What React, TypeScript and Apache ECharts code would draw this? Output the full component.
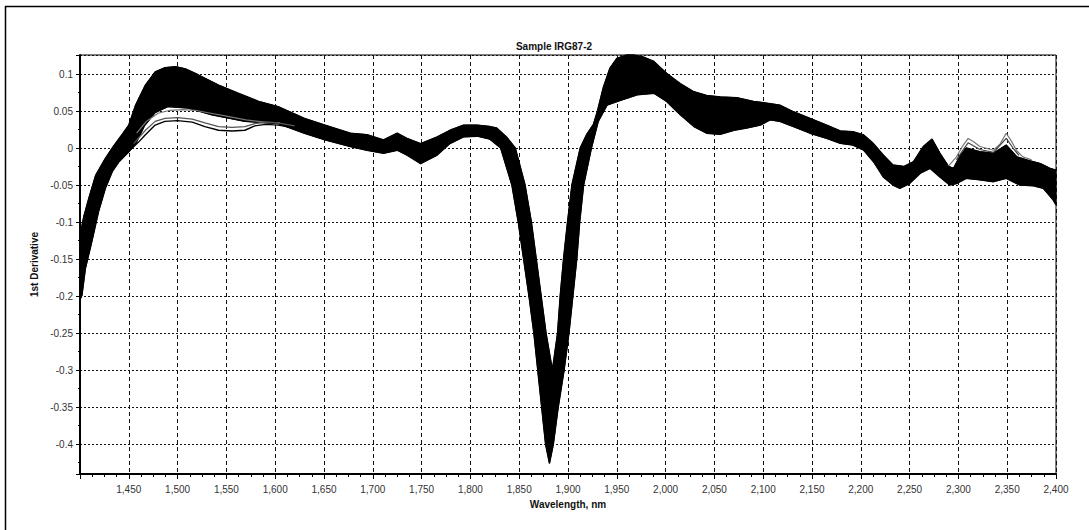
import React, { useEffect, useRef } from "react";
import * as echarts from "echarts";

// Upper edge of the dense bundle of spectra [wavelength nm, 1st derivative]
const upperEnvelope: [number, number][] = [
  [1400, -0.118], [1404, -0.092], [1409, -0.068], [1416, -0.037], [1426, -0.014],
  [1433, 0.0], [1443, 0.018], [1450, 0.031], [1457, 0.058], [1467, 0.085],
  [1477, 0.103], [1487, 0.1085], [1498, 0.11], [1508, 0.107], [1521, 0.099],
  [1542, 0.085], [1562, 0.074], [1583, 0.063], [1603, 0.056], [1630, 0.04],
  [1651, 0.031], [1677, 0.02], [1694, 0.018], [1711, 0.011], [1725, 0.02],
  [1735, 0.013], [1749, 0.006], [1766, 0.015], [1779, 0.024], [1793, 0.031],
  [1807, 0.031], [1820, 0.029], [1827, 0.027], [1837, 0.015], [1846, 0.0],
  [1856, -0.05], [1862.5, -0.1], [1867.5, -0.15], [1872.5, -0.2], [1877.5, -0.25],
  [1884, -0.3], [1889.3, -0.25], [1892, -0.2], [1895.4, -0.15], [1899.5, -0.1],
  [1904, -0.05], [1912.5, 0.0], [1919, 0.018], [1926, 0.032], [1930, 0.049],
  [1936, 0.081], [1943, 0.108], [1950, 0.121], [1960, 0.1257], [1967, 0.1257],
  [1977, 0.123], [1988, 0.117], [2001, 0.101], [2015, 0.087], [2029, 0.076],
  [2042, 0.071], [2056, 0.069], [2073, 0.068], [2090, 0.063], [2107, 0.06],
  [2117, 0.058], [2131, 0.049], [2148, 0.04], [2165, 0.031], [2179, 0.023],
  [2192, 0.022], [2203, 0.0176], [2213, 0.006], [2223, -0.0095], [2233, -0.023],
  [2244, -0.025], [2254, -0.0185], [2264, 0.002], [2273, 0.012], [2281, -0.007],
  [2290, -0.025], [2295, -0.0275], [2302, -0.01], [2308, 0.0], [2322, -0.005],
  [2336, -0.007], [2349, 0.004], [2360, -0.012], [2370, -0.016], [2384, -0.021],
  [2394, -0.0275], [2400, -0.03],
];

// Lower edge of the dense bundle of spectra
const lowerEnvelope: [number, number][] = [
  [1400, -0.205], [1402, -0.199], [1405.5, -0.163], [1412, -0.127], [1419, -0.086],
  [1426, -0.0545], [1433, -0.032], [1440, -0.0185], [1450, -0.005], [1457, 0.006],
  [1466, 0.03], [1477, 0.048], [1490, 0.056], [1511, 0.054], [1535, 0.045],
  [1569, 0.036], [1603, 0.033], [1630, 0.02], [1651, 0.011], [1677, 0.002],
  [1694, -0.003], [1711, -0.007], [1725, -0.003], [1735, -0.0095], [1749, -0.021],
  [1766, -0.0095], [1779, 0.006], [1793, 0.015], [1807, 0.016], [1820, 0.012],
  [1831, 0.0], [1842.5, -0.05], [1849, -0.1], [1854.5, -0.15], [1860, -0.2],
  [1865, -0.25], [1869, -0.3], [1873, -0.35], [1877, -0.4], [1881, -0.426],
  [1885, -0.4], [1890, -0.35], [1896, -0.3], [1901, -0.25], [1905, -0.2],
  [1909, -0.15], [1912, -0.1], [1916, -0.05], [1924, 0.0], [1931, 0.036],
  [1940, 0.058], [1953, 0.064], [1971, 0.072], [1988, 0.074], [2001, 0.063],
  [2015, 0.045], [2029, 0.029], [2042, 0.02], [2056, 0.0185], [2070, 0.024],
  [2083, 0.027], [2097, 0.031], [2107, 0.038], [2117, 0.036], [2131, 0.029],
  [2148, 0.02], [2165, 0.013], [2179, 0.0063], [2192, 0.004], [2203, -0.003],
  [2213, -0.0185], [2223, -0.039], [2233, -0.05], [2240, -0.0545], [2250, -0.048],
  [2261, -0.034], [2271, -0.0275], [2281, -0.039], [2291, -0.05], [2298, -0.048],
  [2308, -0.041], [2322, -0.043], [2336, -0.0455], [2349, -0.041], [2363, -0.05],
  [2377, -0.051], [2387, -0.0545], [2397, -0.07], [2400, -0.077],
];

// Individual spectra that stray from the bundle
const outlierLowA: [number, number][] = [
  [1452, -0.002], [1460, 0.008], [1467, 0.018], [1477, 0.031], [1487, 0.036],
  [1500, 0.037], [1515, 0.035], [1528, 0.029], [1542, 0.024], [1556, 0.023],
  [1569, 0.024], [1579, 0.03], [1590, 0.032], [1603, 0.031], [1625, 0.026],
  [1645, 0.018], [1660, 0.012],
];
const outlierLowC: [number, number][] = [
  [1455, 0.006], [1467, 0.024], [1477, 0.036], [1487, 0.04], [1500, 0.041],
  [1515, 0.039], [1528, 0.034], [1542, 0.029], [1556, 0.028], [1569, 0.029],
  [1579, 0.033], [1590, 0.035], [1603, 0.034], [1620, 0.03],
];
const outlierLowB: [number, number][] = [
  [1458, 0.02], [1468, 0.036], [1480, 0.047], [1492, 0.051], [1505, 0.052],
  [1518, 0.051], [1530, 0.048], [1550, 0.043], [1570, 0.038], [1590, 0.035],
  [1605, 0.034],
];
const outlierHighD: [number, number][] = [
  [2290, -0.024], [2298, -0.012], [2305, 0.004], [2310, 0.013], [2316, 0.008],
  [2322, 0.002], [2336, -0.003], [2343, 0.006], [2349, 0.02], [2354, 0.01],
  [2360, -0.004], [2366, -0.012], [2375, -0.016],
];
const outlierHighE: [number, number][] = [
  [2298, -0.016], [2305, -0.002], [2310, 0.007], [2322, -0.002], [2336, -0.006],
  [2349, 0.013], [2356, 0.0], [2362, -0.01],
];

const chartTitle = "Sample IRG87-2";
const xName = "Wavelength, nm";
const yName = "1st Derivative";

const FONT = "'Liberation Sans', Arial, sans-serif";

export default function App() {
  const ref = useRef<HTMLDivElement>(null);

  useEffect(() => {
    if (!ref.current) return;
    const chart = echarts.init(ref.current, undefined, { renderer: "svg" });

    const lineSeries = (data: [number, number][], color: string, width = 1, z = 5) => ({
      type: "line",
      data,
      showSymbol: false,
      symbol: "none",
      lineStyle: { color, width },
      z,
      silent: true,
    });

    chart.setOption({
      animation: false,
      backgroundColor: "#fff",
      title: {
        text: chartTitle,
        left: 549,
        top: 36,
        textAlign: "center",
        textStyle: { fontSize: 10, fontWeight: "bold", color: "#111", fontFamily: FONT },
      },
      graphic: [
        { type: "line", shape: { x1: 5, y1: 6.5, x2: 1089, y2: 6.5 }, style: { stroke: "#000", lineWidth: 1.5 } },
        { type: "line", shape: { x1: 5.5, y1: 6, x2: 5.5, y2: 530 }, style: { stroke: "#000", lineWidth: 1.5 } },
      ],
      grid: {
        left: 80,
        right: 33,
        top: 55,
        bottom: 56,
        show: true,
        borderColor: "#000",
        borderWidth: 1,
        backgroundColor: "#fff",
      },
      xAxis: {
        type: "value",
        min: 1400,
        max: 2400,
        interval: 50,
        name: xName,
        nameLocation: "middle",
        nameGap: 25,
        nameTextStyle: { fontSize: 10, fontWeight: "bold", color: "#111", fontFamily: FONT },
        axisLine: { onZero: false, lineStyle: { color: "#000", width: 2 } },
        axisTick: { length: 5, lineStyle: { color: "#000" } },
        minorTick: { show: true, splitNumber: 4, length: 3, lineStyle: { color: "#000" } },
        axisLabel: {
          showMinLabel: false,
          margin: 10,
          fontSize: 10,
          color: "#333",
          fontFamily: FONT,
          formatter: (v: number) => v.toLocaleString("en-US"),
        },
        splitLine: { show: true, lineStyle: { color: "#111", type: [4, 3], width: 1 } },
      },
      yAxis: {
        type: "value",
        min: -0.4405,
        max: 0.1257,
        splitNumber: 11,
        name: yName,
        nameLocation: "middle",
        nameGap: 40,
        nameTextStyle: { fontSize: 10, fontWeight: "bold", color: "#111", fontFamily: FONT },
        axisLine: { onZero: false, lineStyle: { color: "#000", width: 2 } },
        axisTick: { length: 4, lineStyle: { color: "#000" } },
        minorTick: { show: true, splitNumber: 2, length: 2, lineStyle: { color: "#000" } },
        axisLabel: {
          showMinLabel: false,
          showMaxLabel: false,
          margin: 7,
          fontSize: 10,
          color: "#333",
          fontFamily: FONT,
        },
        splitLine: { show: true, lineStyle: { color: "#111", type: [2, 2], width: 1 } },
      },
      series: [
        {
          type: "custom",
          data: [[1400, 0]],
          silent: true,
          z: 3,
          renderItem: (_params: any, api: any) => {
            const pts: number[][] = [];
            for (const p of upperEnvelope) pts.push(api.coord(p));
            for (let i = lowerEnvelope.length - 1; i >= 0; i--) pts.push(api.coord(lowerEnvelope[i]));
            return { type: "polygon", shape: { points: pts }, style: { fill: "#000", stroke: "#000", lineWidth: 1 } };
          },
        },
        lineSeries(upperEnvelope, "#000", 1.4),
        lineSeries(lowerEnvelope, "#000", 1.4),
        lineSeries(outlierLowB, "#777", 1.2),
        lineSeries(outlierLowC, "#555", 1.2),
        lineSeries(outlierLowA, "#000", 1.4),
        lineSeries(outlierHighD, "#777", 1.2),
        lineSeries(outlierHighE, "#444", 1.2),
      ],
    });

    return () => chart.dispose();
  }, []);

  return (
    <div
      ref={ref}
      style={{ position: "fixed", left: 0, top: 0, width: 1089, height: 530, background: "#fff" }}
    />
  );
}
